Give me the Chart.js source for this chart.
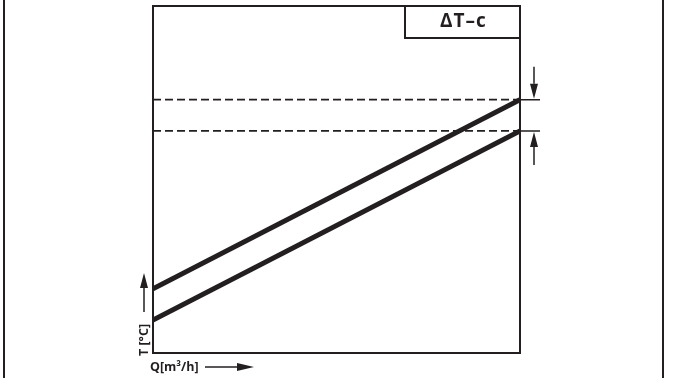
<!DOCTYPE html>
<html>
<head>
<meta charset="utf-8">
<script src="https://cdn.jsdelivr.net/npm/chart.js@4.4.1/dist/chart.umd.min.js"></script>
<style>
  html, body { margin: 0; padding: 0; background: #fff; }
  #wrap { width: 676px; height: 378px; }
</style>
</head>
<body>
<div id="wrap"><canvas id="myChart" width="676" height="378"></canvas></div>
<script>
// schematic values (arbitrary units)
const flowQ = [0, 100];
const upperT = [18.5, 73];
const lowerT = [9.5, 64];
const limitT = [73, 64];

const titleText = 'ΔT–c';
const xLabel = 'Q[m³/h]';
const yLabel = 'T [°C]';

const ink = '#231f20';

const pts = (ys) => flowQ.map((q, i) => ({ x: q, y: ys[i] }));

function arrow(ctx, x1, y1, x2, y2, headLen, headW) {
    const ang = Math.atan2(y2 - y1, x2 - x1);
    const bx = x2 - headLen * Math.cos(ang);
    const by = y2 - headLen * Math.sin(ang);
    ctx.beginPath();
    ctx.moveTo(x1, y1);
    ctx.lineTo(bx, by);
    ctx.stroke();
    ctx.beginPath();
    ctx.moveTo(x2, y2);
    ctx.lineTo(bx + headW / 2 * Math.sin(ang), by - headW / 2 * Math.cos(ang));
    ctx.lineTo(bx - headW / 2 * Math.sin(ang), by + headW / 2 * Math.cos(ang));
    ctx.closePath();
    ctx.fill();
}

const decorations = {
    id: 'decorations',
    beforeDraw(chart) {
        const { ctx, width, height } = chart;
        ctx.save();
        ctx.fillStyle = '#fff';
        ctx.fillRect(0, 0, width, height);
        // page side rules
        ctx.strokeStyle = ink;
        ctx.lineWidth = 2;
        ctx.beginPath();
        ctx.moveTo(4, 0); ctx.lineTo(4, height);
        ctx.moveTo(663, 0); ctx.lineTo(663, height);
        ctx.stroke();
        ctx.restore();
    },
    afterDraw(chart) {
        const { ctx, chartArea: a, scales } = chart;
        const y = scales.y;
        ctx.save();
        ctx.strokeStyle = ink;
        ctx.fillStyle = ink;

        // frame
        ctx.lineWidth = 2;
        ctx.strokeRect(a.left, a.top, a.right - a.left, a.bottom - a.top);

        // title box
        const bw = 115, bh = 32;
        ctx.fillStyle = '#fff';
        ctx.fillRect(a.right - bw, a.top, bw, bh);
        ctx.strokeRect(a.right - bw, a.top, bw, bh);
        ctx.fillStyle = ink;
        ctx.font = 'bold 19px "Open Sans", sans-serif';
        ctx.letterSpacing = '1px';
        ctx.textAlign = 'center';
        ctx.textBaseline = 'middle';
        ctx.fillText(titleText, a.right - bw / 2 + 1, a.top + bh / 2);
        ctx.letterSpacing = '0px';

        // limit ticks and arrows on the right
        const yHi = y.getPixelForValue(limitT[0]);
        const yLo = y.getPixelForValue(limitT[1]);
        ctx.lineWidth = 1.5;
        ctx.beginPath();
        ctx.moveTo(a.right, yHi); ctx.lineTo(a.right + 20, yHi);
        ctx.moveTo(a.right, yLo); ctx.lineTo(a.right + 20, yLo);
        ctx.stroke();
        const ax = a.right + 14;
        arrow(ctx, ax, yHi - 33, ax, yHi - 1, 15, 8);
        arrow(ctx, ax, yLo + 34, ax, yLo + 1, 15, 8);

        // axis labels with arrows
        ctx.font = 'bold 12.5px "Open Sans", sans-serif';
        ctx.textAlign = 'left';
        ctx.textBaseline = 'middle';
        ctx.fillText(xLabel, a.left - 3, a.bottom + 14);
        arrow(ctx, a.left + 52, a.bottom + 14, a.left + 101, a.bottom + 14, 17, 8);

        ctx.save();
        ctx.translate(a.left - 9, a.bottom + 3);
        ctx.rotate(-Math.PI / 2);
        ctx.textAlign = 'left';
        ctx.fillText(yLabel, 0, 0);
        ctx.restore();
        arrow(ctx, a.left - 9, a.bottom - 41, a.left - 9, a.bottom - 80, 15, 8);

        ctx.restore();
    }
};

const ctx = document.getElementById('myChart').getContext('2d');
const myChart = new Chart(ctx, {
    type: 'line',
    data: {
        datasets: [
            { data: pts(upperT), borderColor: ink, borderWidth: 5, clip: 0 },
            { data: pts(lowerT), borderColor: ink, borderWidth: 5, clip: 0 },
            { data: pts([limitT[0], limitT[0]]), borderColor: ink, borderWidth: 1.8, borderDash: [8, 4], clip: 0 },
            { data: pts([limitT[1], limitT[1]]), borderColor: ink, borderWidth: 1.8, borderDash: [8, 4], clip: 0 },
        ]
    },
    options: {
        responsive: false,
        animation: false,
        devicePixelRatio: 1,
        layout: { padding: { left: 153, top: 6, right: 156, bottom: 25 } },
        elements: {
            point: { radius: 0 },
            line: { tension: 0, borderCapStyle: 'butt' }
        },
        scales: {
            x: { type: 'linear', min: 0, max: 100, display: false },
            y: { min: 0, max: 100, display: false }
        },
        plugins: {
            legend: { display: false },
            tooltip: { enabled: false }
        }
    },
    plugins: [decorations]
});
</script>
</body>
</html>
